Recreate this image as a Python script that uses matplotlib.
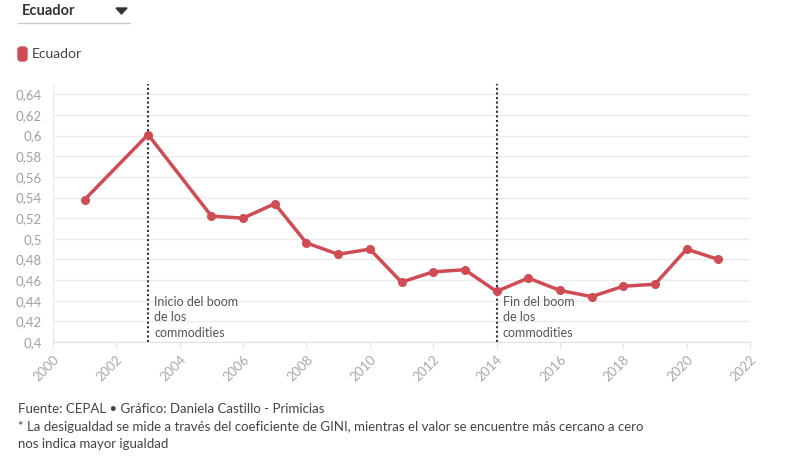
import numpy as np
import matplotlib
matplotlib.use("Agg")
from matplotlib import pyplot as plt
from matplotlib.patches import FancyBboxPatch, Polygon
from matplotlib.transforms import IdentityTransform

# data
years = [2001, 2003, 2005, 2006, 2007, 2008, 2009, 2010, 2011, 2012,
         2013, 2014, 2015, 2016, 2017, 2018, 2019, 2020, 2021]
gini = [0.538, 0.601, 0.522, 0.520, 0.534, 0.496, 0.485, 0.490, 0.458, 0.468,
        0.470, 0.449, 0.462, 0.450, 0.444, 0.454, 0.456, 0.490, 0.480]
yticks = [0.40, 0.42, 0.44, 0.46, 0.48, 0.50, 0.52, 0.54, 0.56, 0.58, 0.60, 0.62, 0.64]
ytick_labels = ["0,4", "0,42", "0,44", "0,46", "0,48", "0,5", "0,52", "0,54",
                "0,56", "0,58", "0,6", "0,62", "0,64"]
xticks = list(range(2000, 2023, 2))
events = [2003, 2014]
event_labels = ["Inicio del boom\nde los\ncommodities", "Fin del boom\nde los\ncommodities"]

red = "#cf4c55"
plt.rcParams['font.family'] = ['Lato', 'DejaVu Sans']

W, H = 804, 465
fig = plt.figure(figsize=(W / 100, H / 100), dpi=100)
ax = fig.add_axes([53 / W, 1 - 342 / H, (750 - 53) / W, (342 - 84) / H])

ax.set_xlim(2000, 2022)
ax.set_ylim(0.4, 0.65)
ax.set_yticks(yticks)
ax.set_yticklabels(ytick_labels)
ax.set_xticks(xticks)
ax.set_xticklabels([str(x) for x in xticks], rotation=45, ha="right", rotation_mode="anchor")
ax.tick_params(axis="y", length=0, pad=8, labelsize=9.5, labelcolor="#a0a0a0")
ax.tick_params(axis="x", length=5, color="#e6e6e6", pad=3, labelsize=9.5, labelcolor="#a8a8a8")
ax.grid(axis="y", color="#ebebeb", lw=1)
for s in ["top", "right"]:
    ax.spines[s].set_visible(False)
ax.spines["left"].set_color("#ebebeb")
ax.spines["bottom"].set_color("#e0e0e0")
ax.set_axisbelow(True)

for ev, lab in zip(events, event_labels):
    ax.axvline(ev, color="#333333", lw=1.5, ls=(0, (1, 1.2)), zorder=2)
    ax.text(ev + 0.2, 0.403, lab, fontsize=9, color="#555555", va="bottom",
            ha="left", linespacing=1.35)

ax.plot(years, gini, color=red, lw=2.5, marker="o", ms=5.5, zorder=3)

# dropdown + legend on top (pixel coords, y from top)
px = IdentityTransform()
fig.text(22 / W, 1 - 11 / H, "Ecuador", fontsize=10.5, fontweight="bold", color="#333333", va="center")
fig.add_artist(Polygon([[116, H - 8], [127, H - 8], [121.5, H - 14]], closed=True,
                       color="#333333", transform=px))
fig.add_artist(plt.Line2D([18 / W, 130 / W], [1 - 23 / H, 1 - 23 / H], color="#cccccc", lw=1))
fig.add_artist(FancyBboxPatch((18, H - 61), 9, 14,
                              boxstyle="round,pad=0,rounding_size=3",
                              color=red, transform=px))
fig.text(32 / W, 1 - 54 / H, "Ecuador", fontsize=10, color="#444444", va="center")

notes = ["Fuente: CEPAL \u2022 Gráfico: Daniela Castillo - Primicias",
         "* La desigualdad se mide a través del coeficiente de GINI, mientras el valor se encuentre más cercano a cero",
         "nos indica mayor igualdad"]
for i, t in enumerate(notes):
    fig.text(18 / W, 1 - (409 + i * 17.5) / H, t, fontsize=9.5, color="#444444", va="center")

fig.savefig("out.png", dpi=100)
